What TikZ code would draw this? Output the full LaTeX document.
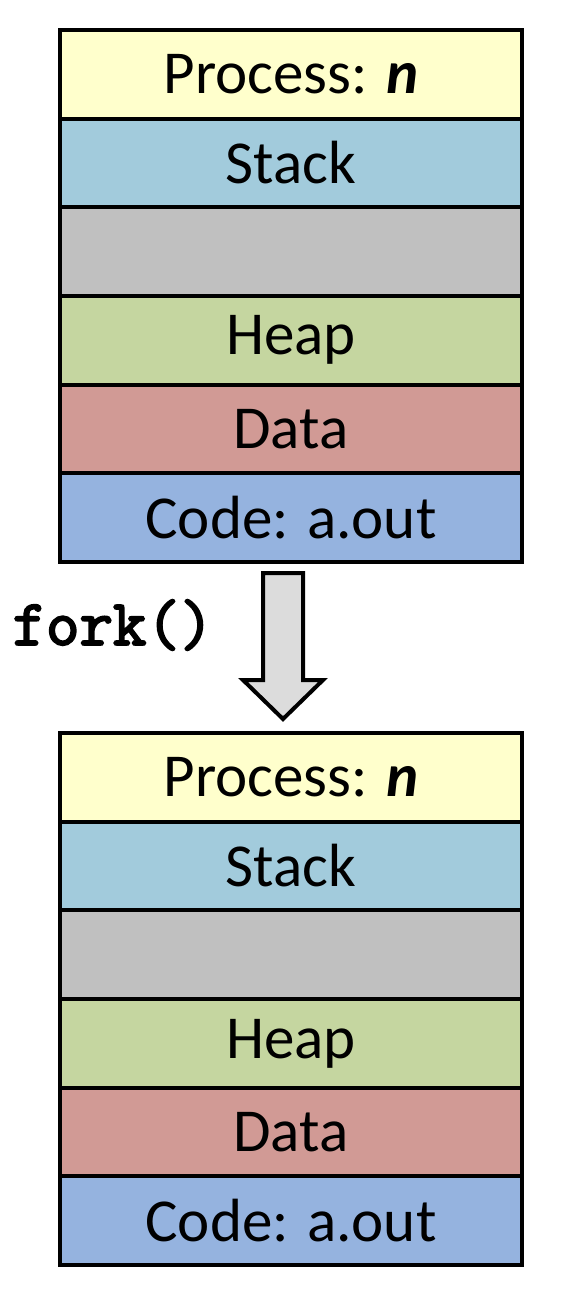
\documentclass[tikz,border=0pt]{standalone}
\usepackage{fontspec}
\setmainfont{Carlito}
\newfontfamily\forkfont{Latin Modern Mono}[FakeBold=3]
\usepackage{tikz}
\usetikzlibrary{positioning}

\definecolor{procyellow}{HTML}{FFFFCC}
\definecolor{stackblue}{HTML}{A2CBDC}
\definecolor{gapgray}{HTML}{C0C0C0}
\definecolor{heapgreen}{HTML}{C5D6A0}
\definecolor{datared}{HTML}{D19A95}
\definecolor{codeblue}{HTML}{95B3DF}
\definecolor{arrowgray}{HTML}{DCDCDC}

\tikzset{
	seg/.style={draw, line width=4pt, minimum width=462pt, minimum height=88.67pt,
		inner sep=0pt, font=\fontsize{61}{64}\selectfont},
	bigarrow/.style={draw, line width=4pt, fill=arrowgray, miter limit=10}
}

\begin{document}
\begin{tikzpicture}[x=1pt,y=-1pt]
	\useasboundingbox (0,0) rectangle (564,1298);
	\foreach \p/\top in {a/30,b/733}
	{
		\foreach \j/\name/\txt/\col in {
			0/proc/Process: \textbf{\textit{n}}/procyellow,
			1/stack/Stack/stackblue,
			2/gap//gapgray,
			3/heap/Heap/heapgreen,
			4/data/Data/datared,
			5/code/Code: a.out/codeblue}
		{
			\node[seg, fill=\col] (\p-\name) at (291,\top+44.33+\j*88.67) {\txt};
		}
	}
	\draw[bigarrow] (263,573) -- (303,573) -- (303,680) -- (323,680) -- (283,719)
		-- (243,680) -- (263,680) -- cycle;
	\node[font=\forkfont\bfseries\fontsize{65}{68}\selectfont] (fork) at (113,625) {fork()};
\end{tikzpicture}
\end{document}
